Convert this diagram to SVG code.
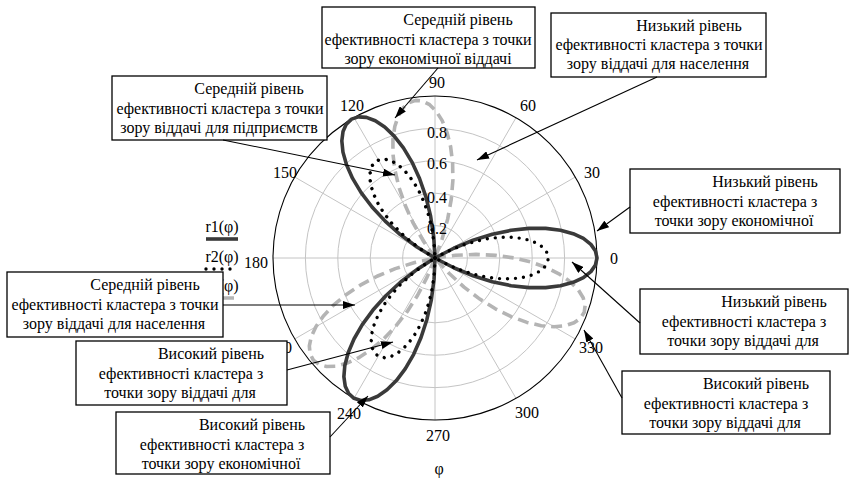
<svg xmlns="http://www.w3.org/2000/svg" xmlns:xlink="http://www.w3.org/1999/xlink" width="849" height="480" viewBox="0 0 849 480" font-family="Liberation Serif, serif">
<style>
.bg{fill:#fff}
.grid{fill:none;stroke:#c4c4c4;stroke-width:1}
.outer{fill:none;stroke:#000;stroke-width:1.1}
.r1{fill:none;stroke:#3a3a3a;stroke-width:3.6;stroke-linejoin:round}
.r2{fill:none;stroke:#000;stroke-width:3.4;stroke-dasharray:0 8;stroke-linecap:round;stroke-linejoin:round}
.r3{fill:none;stroke:#b4b4b4;stroke-width:3.6;stroke-dasharray:11 6;stroke-linejoin:round}
.t{font-size:16px;fill:#000;text-anchor:middle}
.box{fill:#fff;stroke:#000;stroke-width:1.3}
.conn{fill:none;stroke:#000;stroke-width:1.1;marker-end:url(#arr)}
</style>
<defs>
<marker id="arr" viewBox="0 0 12 8" refX="12" refY="4" markerWidth="12" markerHeight="8" markerUnits="userSpaceOnUse" orient="auto">
<path d="M0,0 L12,4 L0,8 Z" fill="#000"/>
</marker>
<path id="p100" d="M0,0 L18.76,-9.76 L38,-17.72 L57.28,-23.72 L76.12,-27.7 L94.06,-29.66 L110.65,-29.65 L125.48,-27.82 L138.16,-24.36 L148.39,-19.54 L155.88,-13.64 L160.46,-7.01 L162,0 L160.46,7.01 L155.88,13.64 L148.39,19.54 L138.16,24.36 L125.48,27.82 L110.65,29.65 L94.06,29.66 L76.12,27.7 L57.28,23.72 L38,17.72 L18.76,9.76 Z"/>
<path id="p70" d="M0,0 L13.13,-6.83 L26.6,-12.4 L40.09,-16.61 L53.28,-19.39 L65.84,-20.76 L77.45,-20.75 L87.83,-19.47 L96.72,-17.05 L103.87,-13.67 L109.12,-9.55 L112.32,-4.9 L113.4,0 L112.32,4.9 L109.12,9.55 L103.87,13.67 L96.72,17.05 L87.83,19.47 L77.45,20.75 L65.84,20.76 L53.28,19.39 L40.09,16.61 L26.6,12.4 L13.13,6.83 Z"/>
<path id="p98" d="M0,0 L18.39,-9.57 L37.25,-17.37 L56.14,-23.26 L74.61,-27.16 L92.2,-29.07 L108.46,-29.06 L123,-27.27 L135.44,-23.88 L145.46,-19.15 L152.81,-13.37 L157.29,-6.87 L158.8,0 L157.29,6.87 L152.81,13.37 L145.46,19.15 L135.44,23.88 L123,27.27 L108.46,29.06 L92.2,29.07 L74.61,27.16 L56.14,23.26 L37.25,17.37 L18.39,9.57 Z"/>
</defs>
<rect class="bg" x="0" y="0" width="849" height="480"/>

<g id="polar-grid">
<circle class="grid" cx="435" cy="258" r="32.4"/>
<circle class="grid" cx="435" cy="258" r="64.8"/>
<circle class="grid" cx="435" cy="258" r="97.2"/>
<circle class="grid" cx="435" cy="258" r="129.6"/>
<line class="grid" x1="273" y1="258" x2="597" y2="258"/>
<line class="grid" x1="294.7" y1="339" x2="575.3" y2="177"/>
<line class="grid" x1="354" y1="398.3" x2="516" y2="117.7"/>
<line class="grid" x1="435" y1="420" x2="435" y2="96"/>
<line class="grid" x1="516" y1="398.3" x2="354" y2="117.7"/>
<line class="grid" x1="575.3" y1="339" x2="294.7" y2="177"/>
<circle class="outer" cx="435" cy="258" r="162"/>
</g>

<g id="curve-r3">
<use xlink:href="#p98" class="r3" transform="translate(435,258) rotate(-97)"/>
<use xlink:href="#p98" class="r3" transform="translate(435,258) rotate(-220)"/>
<use xlink:href="#p98" class="r3" transform="translate(435,258) rotate(-340)"/>
</g>
<g id="curve-r1">
<use xlink:href="#p100" class="r1" transform="translate(435,258) rotate(0)"/>
<use xlink:href="#p100" class="r1" transform="translate(435,258) rotate(-121)"/>
<use xlink:href="#p100" class="r1" transform="translate(435,258) rotate(-240)"/>
</g>
<g id="curve-r2">
<use xlink:href="#p70" class="r2" transform="translate(435,258) rotate(0)"/>
<use xlink:href="#p70" class="r2" transform="translate(435,258) rotate(-121)"/>
<use xlink:href="#p70" class="r2" transform="translate(435,258) rotate(-240)"/>
</g>

<g id="axis-labels">
<text class="t" x="614" y="263.5">0</text>
<text class="t" x="592" y="177.5">30</text>
<text class="t" x="528" y="110.5">60</text>
<text class="t" x="437" y="87.5">90</text>
<text class="t" x="352" y="110.5">120</text>
<text class="t" x="285" y="177.5">150</text>
<text class="t" x="256" y="267.5">180</text>
<text class="t" x="280" y="352.5">210</text>
<text class="t" x="349" y="418.5">240</text>
<text class="t" x="438" y="440.5">270</text>
<text class="t" x="527" y="417.5">300</text>
<text class="t" x="591" y="352.5">330</text>
<text class="t" x="439" y="474">φ</text>
<text class="t" x="437" y="233.5">0.2</text>
<text class="t" x="437" y="202.5">0.4</text>
<text class="t" x="437" y="168.5">0.6</text>
<text class="t" x="437" y="137.5">0.8</text>
</g>

<g id="legend">
<text class="t" x="222" y="232">r1(φ)</text>
<line class="r1" x1="206" y1="239" x2="238" y2="239"/>
<text class="t" x="222" y="262">r2(φ)</text>
<line class="r2" x1="206" y1="269" x2="232" y2="269"/>
<text class="t" x="222" y="291">r3(φ)</text>
<line class="r3" x1="206" y1="298" x2="240" y2="298"/>
</g>

<g id="node-A">
<rect class="box" x="322" y="7" width="213" height="61"/>
<text class="t" x="458" y="25">Середній рівень</text>
<text class="t" x="428" y="44.5">ефективності кластера з точки</text>
<text class="t" x="428" y="63.5">зору економічної віддачі</text>
</g>
<g id="node-B">
<rect class="box" x="551" y="13" width="215" height="64"/>
<text class="t" x="689" y="30.5">Низький рівень</text>
<text class="t" x="659" y="50">ефективності кластера з точки</text>
<text class="t" x="658" y="69">зору віддачі для населення</text>
</g>
<g id="node-C">
<rect class="box" x="630" y="169" width="210" height="64"/>
<text class="t" x="765" y="187">Низький рівень</text>
<text class="t" x="735" y="206.5">ефективності кластера з</text>
<text class="t" x="734" y="225.5">точки зору економічної</text>
</g>
<g id="node-D">
<rect class="box" x="640" y="289" width="208" height="65"/>
<text class="t" x="774" y="307">Низький рівень</text>
<text class="t" x="744" y="326.5">ефективності кластера з</text>
<text class="t" x="743" y="345.5">точки зору віддачі для</text>
</g>
<g id="node-E">
<rect class="box" x="622" y="371" width="208" height="63"/>
<text class="t" x="756" y="389">Високий рівень</text>
<text class="t" x="726" y="408.5">ефективності кластера з</text>
<text class="t" x="725" y="427.5">точки зору віддачі для</text>
</g>
<g id="node-F">
<rect class="box" x="112" y="76" width="215" height="64"/>
<text class="t" x="249" y="94">Середній рівень</text>
<text class="t" x="220" y="113.5">ефективності кластера з точки</text>
<text class="t" x="219" y="132.5">зору віддачі для підприємств</text>
</g>
<g id="node-G">
<rect class="box" x="7" y="272" width="216" height="65"/>
<text class="t" x="145" y="290">Середній рівень</text>
<text class="t" x="115" y="309.5">ефективності кластера з точки</text>
<text class="t" x="114" y="328.5">зору віддачі для населення</text>
</g>
<g id="node-H">
<rect class="box" x="76" y="341" width="211" height="64"/>
<text class="t" x="211" y="359">Високий рівень</text>
<text class="t" x="181" y="378.5">ефективності кластера з</text>
<text class="t" x="180" y="397.5">точки зору віддачі для</text>
</g>
<g id="node-I">
<rect class="box" x="116" y="412" width="214" height="62"/>
<text class="t" x="252" y="430">Високий рівень</text>
<text class="t" x="222" y="449.5">ефективності кластера з</text>
<text class="t" x="221" y="468.5">точки зору економічної</text>
</g>

<g id="connectors">
<line class="conn" x1="438" y1="68" x2="395" y2="118"/>
<line class="conn" x1="657" y1="77" x2="477" y2="160"/>
<line class="conn" x1="223" y1="140" x2="395" y2="175"/>
<line class="conn" x1="630" y1="207" x2="597" y2="231"/>
<line class="conn" x1="640" y1="323" x2="572" y2="262"/>
<line class="conn" x1="622" y1="398" x2="584" y2="330"/>
<line class="conn" x1="223" y1="305" x2="355" y2="305"/>
<line class="conn" x1="287" y1="370" x2="393" y2="342"/>
<line class="conn" x1="330" y1="437" x2="368" y2="396"/>
</g>
</svg>
